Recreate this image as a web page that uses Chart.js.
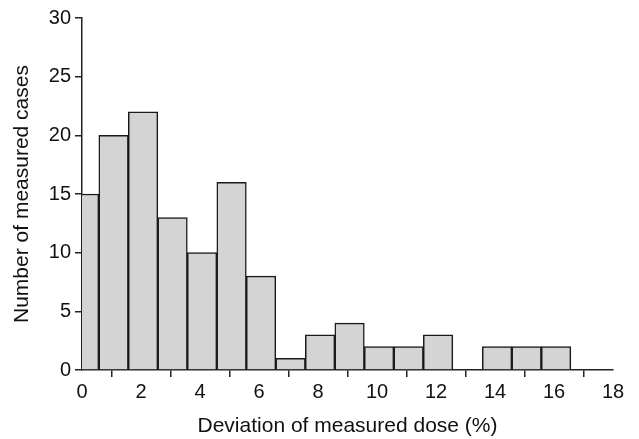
<!DOCTYPE html>
<html>
<head>
<meta charset="utf-8">
<script src="https://cdn.jsdelivr.net/npm/chart.js@4"></script>
<style>
html,body{margin:0;padding:0;background:#fff;}
#wrap{width:639px;height:439px;position:relative;}
</style>
</head>
<body>
<div id="wrap"><canvas id="c"></canvas></div>
<script>
// Bin centres (deviation %, bins of width 1) and counts
const binCenters = [0.07, 1.07, 2.07, 3.07, 4.07, 5.07, 6.07, 7.07, 8.07, 9.07, 10.07, 11.07, 12.07, 13.07, 14.07, 15.07, 16.07];
const counts     = [15, 20, 22, 13, 10, 16, 8, 1, 3, 4, 2, 2, 3, 0, 2, 2, 2];
const xTicks = [0, 2, 4, 6, 8, 10, 12, 14, 16, 18];
const yTicks = [0, 5, 10, 15, 20, 25, 30];
const xTitle = 'Deviation of measured dose (%)';
const yTitle = 'Number of measured cases';

const axisColor = '#222';
const font = 'Liberation Sans, Arial, sans-serif';

new Chart(document.getElementById('c'), {
  type: 'bar',
  data: {
    datasets: [{
      data: binCenters.map((x, i) => ({x: x, y: counts[i]})),
      backgroundColor: '#d4d4d4',
      borderColor: '#1a1a1a',
      borderWidth: 1.5,
      borderSkipped: 'start',
      barPercentage: 1,
      categoryPercentage: 1
    }]
  },
  options: {
    responsive: true,
    maintainAspectRatio: false,
    animation: false,
    layout: {padding: {left: 0, top: 18, right: 26, bottom: 0}},
    plugins: {legend: {display: false}, tooltip: {enabled: false}},
    scales: {
      x: {
        type: 'linear',
        min: 0, max: 18,
        offset: false,
        afterBuildTicks: s => { s.ticks = xTicks.map(v => ({value: v})); },
        afterFit: s => { s.height = 69; },
        ticks: {color: '#111', font: {family: font, size: 20}, padding: 3, maxRotation: 0, autoSkip: false},
        grid: {display: true, drawOnChartArea: false, drawTicks: true, tickLength: 7, color: axisColor, lineWidth: 1.5},
        border: {display: true, color: axisColor, width: 1.5},
        title: {display: true, text: xTitle, color: '#111', font: {family: font, size: 21}, padding: {top: 1, bottom: 0}}
      },
      y: {
        min: 0, max: 30,
        afterBuildTicks: s => { s.ticks = yTicks.map(v => ({value: v})); },
        afterFit: s => { s.width = 82; },
        ticks: {color: '#111', font: {family: font, size: 20}, padding: 4, autoSkip: false},
        grid: {display: true, drawOnChartArea: false, drawTicks: true, tickLength: 7, color: axisColor, lineWidth: 1.5},
        border: {display: true, color: axisColor, width: 1.5},
        title: {display: true, text: yTitle, color: '#111', font: {family: font, size: 21}, padding: {top: 10, bottom: 0}}
      }
    }
  }
});
</script>
</body>
</html>
